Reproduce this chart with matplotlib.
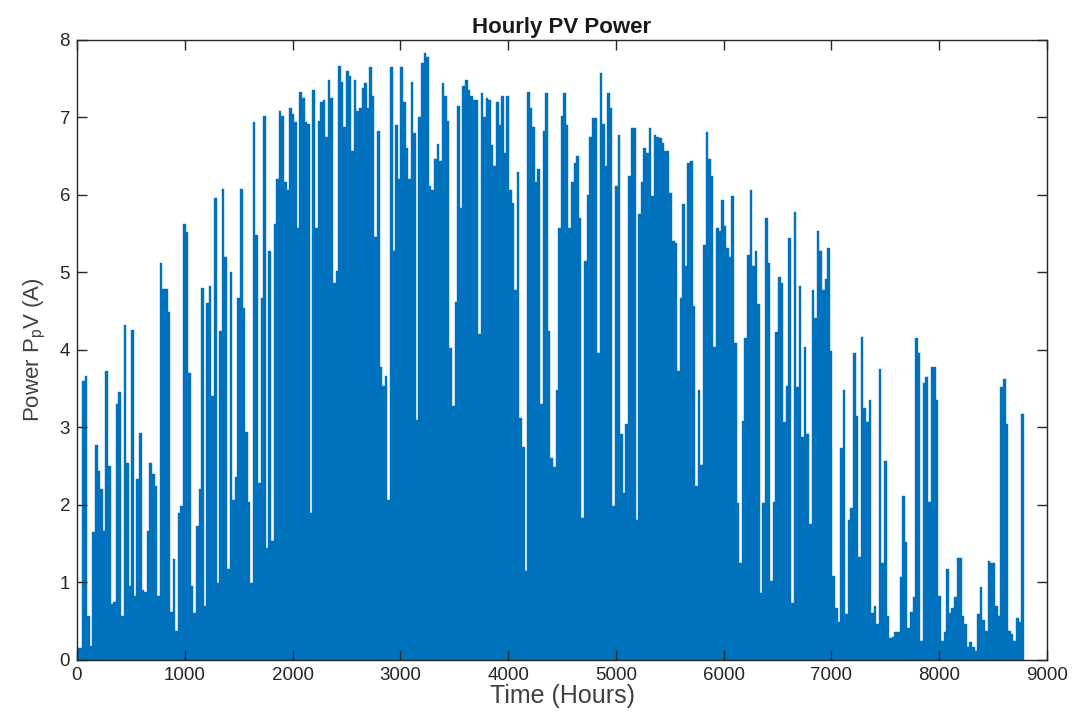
import numpy as np
import matplotlib.pyplot as plt

# daily peak PV power (A), in blocks of about one month
p01 = [0.15, 0.15, 3.6, 3.67, 0.57, 0.18, 1.65, 2.77, 2.44, 2.2, 1.67, 3.73, 2.5, 0.72, 0.75,
       3.3, 3.46, 0.57, 4.32, 2.54, 0.96, 4.26, 0.83, 2.33, 2.93, 0.9, 0.88, 1.67, 2.54]
p02 = [2.4, 2.25, 0.83, 5.12, 4.79, 4.79, 4.49, 0.62, 1.3, 0.38, 1.9, 1.99, 5.63, 5.52, 3.7,
       0.96, 0.6, 1.73, 2.2, 4.8, 0.7, 4.6, 4.83, 3.4, 5.96, 0.99, 4.25, 6.08, 5.2, 1.17, 5.0]
p03 = [2.07, 2.36, 4.67, 6.08, 4.54, 2.94, 2.04, 0.99, 6.94, 5.49, 2.28, 4.67, 7.02, 1.44, 5.28,
       1.54, 5.62, 6.2, 7.09, 7.02, 6.17, 6.07, 7.12, 7.04, 6.94, 5.57, 7.33, 7.25, 6.94, 6.91, 1.9]
p04 = [7.36, 5.57, 6.96, 7.2, 7.23, 6.75, 7.49, 7.25, 4.86, 5.02, 7.67, 7.46, 6.88, 7.6, 7.54,
       6.57, 7.49, 7.09, 7.12, 7.38, 7.44, 7.12, 7.65, 7.28, 5.46, 6.83, 3.78, 3.54, 3.67, 2.07, 7.65]
p05 = [5.28, 6.9, 6.2, 7.65, 7.2, 6.6, 6.2, 7.46, 6.8, 3.1, 7.0, 7.7, 7.83, 7.78, 6.12,
       6.07, 6.46, 6.66, 6.44, 7.44, 7.28, 6.96, 4.02, 3.28, 4.62, 7.15, 5.83, 7.41, 7.49, 7.36, 7.28]
p06 = [7.23, 7.23, 4.2, 7.31, 7.0, 7.25, 7.23, 6.65, 6.38, 7.2, 6.9, 7.28, 6.54, 7.28, 6.07,
       5.9, 4.78, 6.3, 3.12, 2.75, 1.15, 7.33, 7.12, 6.88, 6.17, 6.33, 3.3, 6.83, 7.31, 4.25, 2.6]
p07 = [2.49, 3.49, 5.57, 7.02, 7.31, 6.9, 5.57, 6.17, 6.41, 6.5, 5.7, 1.83, 5.15, 6.0, 6.75,
       6.99, 6.99, 3.96, 7.57, 6.91, 6.38, 7.31, 7.12, 1.99, 6.12, 6.78, 2.91, 2.15, 3.04, 6.25, 6.86]
p08 = [6.86, 1.8, 5.75, 6.17, 6.6, 6.54, 6.86, 5.99, 6.78, 6.75, 6.73, 6.67, 6.57, 6.57, 6.02,
       5.41, 5.38, 3.73, 4.67, 5.88, 5.09, 6.41, 6.44, 4.57, 2.25, 3.49, 2.52, 5.36, 6.81, 6.46, 6.25]
p09 = [4.04, 5.57, 5.54, 5.94, 5.6, 5.31, 5.2, 5.99, 4.09, 2.02, 1.25, 3.09, 4.15, 5.23, 6.07,
       5.09, 5.28, 4.59, 0.86, 2.02, 5.7, 5.12, 1.02, 2.04, 4.23, 4.94, 4.86, 3.07, 3.54, 5.44, 0.73]
p10 = [5.78, 3.52, 4.83, 2.88, 4.04, 2.91, 1.75, 4.78, 4.41, 5.54, 5.28, 4.78, 4.91, 5.31, 3.99,
       1.09, 0.67, 0.49, 2.73, 3.49, 0.59, 1.81, 1.96, 3.96, 3.15, 1.33, 4.17, 3.25, 3.07, 3.36, 0.6]
p11 = [0.7, 0.46, 3.75, 1.25, 2.57, 0.57, 0.28, 0.3, 0.36, 0.36, 1.07, 2.12, 1.52, 0.41, 0.62,
       0.81, 4.15, 3.96, 0.25, 3.57, 3.65, 2.04, 3.78, 3.78, 3.36, 0.83, 0.25, 0.36, 1.17, 0.6, 0.67]
p12 = [0.81, 1.31, 1.31, 0.57, 0.46, 0.17, 0.23, 0.17, 0.12, 0.59, 0.94, 0.52, 0.38, 1.28, 1.25,
       1.25, 0.7, 0.57, 3.52, 3.62, 3.04, 0.38, 0.33, 0.25, 0.54, 0.49, 3.17]

daily_peak = np.array(p01 + p02 + p03 + p04 + p05 + p06 + p07 + p08 + p09 + p10 + p11 + p12)
hours = np.arange(len(daily_peak)) * 24 + 12

plt.rcParams['font.family'] = ['Liberation Sans', 'DejaVu Sans']
plt.rcParams['mathtext.default'] = 'regular'

fig = plt.figure(figsize=(10.81, 7.18), dpi=100)
ax = fig.add_axes([0.0712, 0.0808, 0.8974, 0.8635])

ax.bar(hours, daily_peak, width=24, color='#0072BD', edgecolor='#0072BD', linewidth=0.3)

ax.set_xlim(0, 9000)
ax.set_ylim(0, 8)
ax.set_xticks(range(0, 9001, 1000))
ax.set_yticks(range(0, 9))
ax.tick_params(direction='in', top=True, right=True, length=7, width=1,
               labelsize=13.5, colors='#262626', pad=5)
for s in ax.spines.values():
    s.set_color('#262626')
    s.set_linewidth(1)

ax.set_title('Hourly PV Power', fontsize=16, fontweight='bold', color='#1a1a1a', pad=5)
ax.set_xlabel('Time (Hours)', fontsize=18, color='#404040', labelpad=0)
ax.set_ylabel('Power P$_p$V (A)', fontsize=16, color='#404040', labelpad=8)

fig.savefig('out.png', dpi=100)
